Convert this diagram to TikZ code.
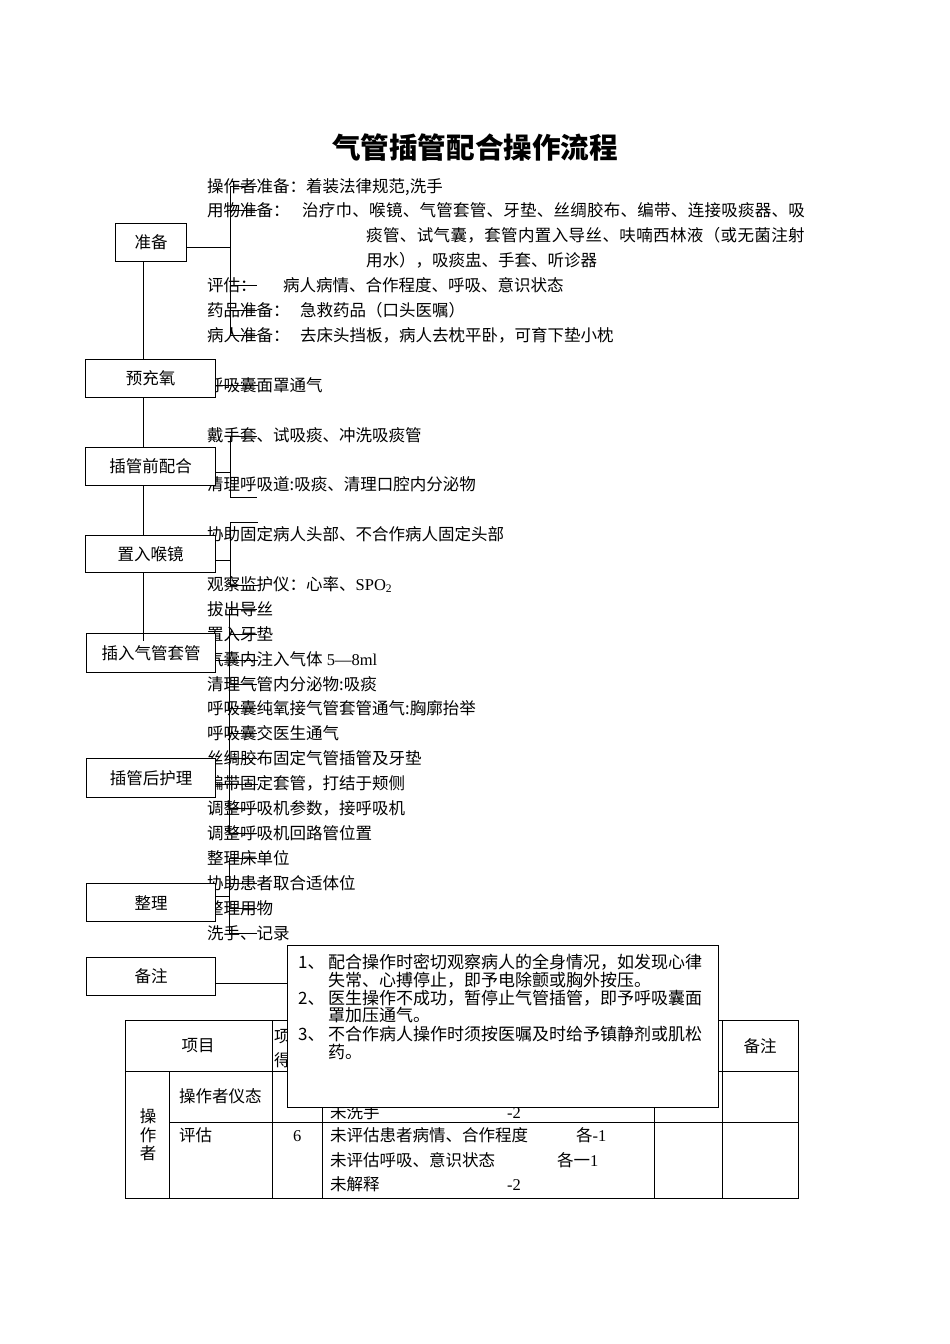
\documentclass[tikz,border=0pt]{standalone}
\usepackage{fontspec}
\setmainfont{Liberation Serif}
\newfontfamily\cjk{Noto Sans CJK SC}
\newcommand\lt[1]{{\rmfamily #1}}
\tikzset{
  box/.style={draw, line width=1pt, fill=white, inner sep=0pt, anchor=north west,
              font=\cjk\fontsize{16.5}{18}\selectfont},
  txt/.style={anchor=base west, inner sep=0pt, font=\cjk\fontsize{16.5}{18}\selectfont},
  ntxt/.style={anchor=base west, inner sep=0pt, font=\cjk\fontsize{17}{18}\selectfont},
  ln/.style={line width=1pt},
  grid/.style={line width=0.8pt},
}
\begin{document}
\begin{tikzpicture}[x=1pt,y=-1pt]
\fill[white] (0,0) rectangle (950,1344);
\useasboundingbox (0,0) rectangle (950,1344);

% title
\node[inner sep=0pt, font=\cjk\bfseries\fontsize{28.6}{30}\selectfont] (title) at (475,148) {气管插管配合操作流程};

% ---- texts (baseline = row centre + 6)
\node[txt] (t0) at (207,192) {操作者准备：着装法律规范,洗手};
\node[txt] (t1a) at (207,216.9) {用物准备：};
\node[txt] (t1b) at (302,216.9) {\addfontfeature{LetterSpace=1.6}治疗巾、喉镜、气管套管、牙垫、丝绸胶布、编带、连接吸痰器、吸};
\node[txt] (t2) at (366,241.8) {\addfontfeature{LetterSpace=2.3}痰管、试气囊，套管内置入导丝、呋喃西林液（或无菌注射};
\node[txt] (t3) at (366,266.7) {用水），吸痰盅、手套、听诊器};
\node[txt] (t4a) at (207,291.6) {评估：};
\node[txt] (t4b) at (283,291.6) {病人病情、合作程度、呼吸、意识状态};
\node[txt] (t5a) at (207,316.5) {药品准备：};
\node[txt] (t5b) at (300,316.5) {急救药品（口头医嘱）};
\node[txt] (t6a) at (207,341.4) {病人准备：};
\node[txt] (t6b) at (300,341.4) {去床头挡板，病人去枕平卧，可育下垫小枕};
\node[txt] (t8) at (207,391.2) {呼吸囊面罩通气};
\node[txt] (t10) at (207,441) {戴手套、试吸痰、冲洗吸痰管};
\node[txt] (t12) at (207,490.8) {清理呼吸道:吸痰、清理口腔内分泌物};
\node[txt] (t14) at (207,540.6) {协助固定病人头部、不合作病人固定头部};
\node[txt] (t16) at (207,590.4) {观察监护仪：心率、\lt{SPO\textsubscript{2}}};
\node[txt] (t17) at (207,615.3) {拔出导丝};
\node[txt] (t18) at (207,640.2) {置入牙垫};
\node[txt] (t19) at (207,665.1) {气囊内注入气体\lt{ 5—8ml}};
\node[txt] (t20) at (207,690) {清理气管内分泌物:吸痰};
\node[txt] (t21) at (207,714.9) {呼吸囊纯氧接气管套管通气:胸廓抬举};
\node[txt] (t22) at (207,739.8) {呼吸囊交医生通气};
\node[txt] (t23) at (207,764.7) {丝绸胶布固定气管插管及牙垫};
\node[txt] (t24) at (207,789.6) {编带固定套管，打结于颊侧};
\node[txt] (t25) at (207,814.5) {调整呼吸机参数，接呼吸机};
\node[txt] (t26) at (207,839.4) {调整呼吸机回路管位置};
\node[txt] (t27) at (207,864.3) {整理床单位};
\node[txt] (t28) at (207,889.2) {协助患者取合适体位};
\node[txt] (t29) at (207,914.1) {整理用物};
\node[txt] (t30) at (207,939) {洗手、记录};

% ---- table
\draw[grid] (125,1020) rectangle (798,1198);
\draw[grid] (125,1071) -- (798,1071);
\draw[grid] (169,1122) -- (798,1122);
\draw[grid] (169,1071) -- (169,1198);
\foreach \x in {272,322,654,722} \draw[grid] (\x,1020) -- (\x,1198);
\node[inner sep=0pt, font=\cjk\fontsize{16.5}{18}\selectfont] (h1) at (198,1046) {项目};
\node[txt] (h2a) at (274,1042) {项};
\node[txt] (h2b) at (274,1066) {得};
\node[inner sep=0pt, font=\cjk\fontsize{16.5}{18}\selectfont] (h6) at (760,1046) {备注};
\node[inner sep=0pt, align=center, font=\cjk\fontsize{16.5}{18.5}\selectfont] (c1) at (148,1135) {操\\作\\者};
\node[txt] (c2) at (179,1102) {操作者仪态};
\node[txt] (c3) at (330,1118) {未洗手};
\node[txt] (c3s) at (507,1118) {\lt{-2}};
\node[txt] (d2) at (179,1141) {评估};
\node[txt] (d3) at (293,1141) {\lt{6}};
\node[txt] (d4) at (330,1141) {未评估患者病情、合作程度};
\node[txt] (d4s) at (576,1141) {各\lt{-1}};
\node[txt] (d5) at (330,1166) {未评估呼吸、意识状态};
\node[txt] (d5s) at (557,1166) {各一\lt{1}};
\node[txt] (d6) at (330,1190) {未解释};
\node[txt] (d6s) at (507,1190) {\lt{-2}};

% ---- boxes
\node[box, minimum width=71, minimum height=38] (zb) at (115,223) {准备};
\node[box, minimum width=130, minimum height=38] (yc) at (85,359) {预充氧};
\node[box, minimum width=130, minimum height=38] (cq) at (85,447) {插管前配合};
\node[box, minimum width=130, minimum height=37] (zh) at (85,535) {置入喉镜};
\node[box, minimum width=129, minimum height=39] (cr) at (86,633) {插入气管套管};
\node[box, minimum width=129, minimum height=39] (hl) at (86,758) {插管后护理};
\node[box, minimum width=129, minimum height=38] (zl) at (86,883) {整理};
\node[box, minimum width=129, minimum height=38] (bz) at (86,957) {备注};

% note box
\node[box, minimum width=431, minimum height=162] (nb) at (287,945) {};
\node[ntxt] (n1a) at (298,968) {1、};
\node[ntxt] (n1b) at (328,968) {配合操作时密切观察病人的全身情况，如发现心律};
\node[ntxt] (n1c) at (328,986) {失常、心搏停止，即予电除颤或胸外按压。};
\node[ntxt] (n2a) at (298,1004) {2、};
\node[ntxt] (n2b) at (328,1004) {医生操作不成功，暂停止气管插管，即予呼吸囊面};
\node[ntxt] (n2c) at (328,1021) {罩加压通气。};
\node[ntxt] (n3a) at (298,1040) {3、};
\node[ntxt] (n3b) at (328,1040) {不合作病人操作时须按医嘱及时给予镇静剂或肌松};
\node[ntxt] (n3c) at (328,1058) {药。};

% ---- connectors
\coordinate (sp) at (143,0);
\coordinate (spEnd) at (143,641);
\coordinate (bk) at (230,0);
\coordinate (bk2) at (229,0);
\draw[ln] (zb.south -| sp) -- (yc.north -| sp);
\draw[ln] (yc.south -| sp) -- (cq.north -| sp);
\draw[ln] (cq.south -| sp) -- (zh.north -| sp);
\draw[ln] (zh.south -| sp) -- (spEnd);

% 准备
\draw[ln] ([yshift=-5pt]zb.east) -- ([yshift=-5pt]zb.east -| bk);
\draw[ln] (230,186) -- (230,335.4);
\foreach \y in {186,210.9,285.6,310.5,335.4} \draw[ln] (230,\y) -- (257,\y);
% 预充氧
\draw[ln] ([yshift=-7pt]yc.east) -- ++(42,0);
% 插管前配合
\draw[ln] ([yshift=-6pt]cq.east) -- ([yshift=-6pt]cq.east -| bk);
\draw[ln] (230,436) -- (230,497);
\foreach \y in {436,497} \draw[ln] (230,\y) -- (257,\y);
% 置入喉镜
\draw[ln] ([yshift=-6.5pt]zh.east) -- ([yshift=-6.5pt]zh.east -| bk);
\draw[ln] (230,522) -- (230,585);
\foreach \y in {522,585} \draw[ln] (230,\y) -- (258,\y);
% 插入气管套管 / 插管后护理
\draw[ln] (229,609.3) -- (229,833.4);
\foreach \y in {609.3,634.2,684,708.9,733.8,758.7,808.5,833.4} \draw[ln] (229,\y) -- (257,\y);
\draw[ln] ([yshift=-7pt]cr.east) -- ++(42,0);
\draw[ln] ([yshift=-6.5pt]hl.east) -- ++(42,0);
% 整理
\draw[ln] ([yshift=6pt]zl.east) -- ([yshift=6pt]zl.east -| bk2);
\draw[ln] (229,858.3) -- (229,933);
\foreach \y in {858.3,883.2,908.1,933} \draw[ln] (229,\y) -- (257,\y);
% 备注
\draw[ln] ([yshift=-7pt]bz.east) -- ([yshift=-7pt]bz.east -| nb.west);
\end{tikzpicture}
\end{document}
